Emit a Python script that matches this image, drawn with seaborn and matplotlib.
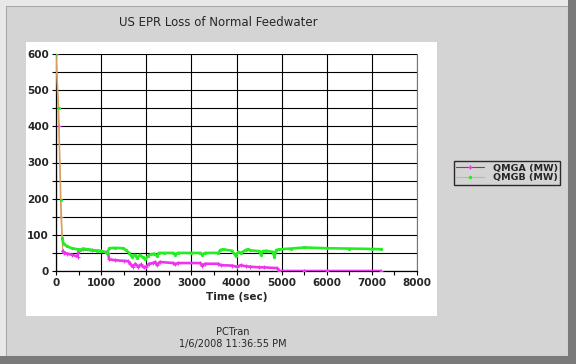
import numpy as np
import pandas as pd
import matplotlib
matplotlib.use('Agg')
import matplotlib.pyplot as plt
import matplotlib.ticker as ticker
from matplotlib.patches import Rectangle
from matplotlib.lines import Line2D
import seaborn as sns

sns.set_style("white")
plt.rcParams.update({'font.family': 'DejaVu Sans', 'font.size': 7})

### Data ###
title = 'US EPR Loss of Normal Feedwater'
time_b = [0, 60, 110, 140, 170, 250, 350, 480, 520, 600, 700, 800, 900, 1000, 1100, 1140,
          1180, 1300, 1480, 1550, 1620, 1680, 1740, 1800, 1860, 1920, 1980, 2040, 2100, 2180,
          2230, 2280, 2400, 2600, 2640, 2700, 3000, 3200, 3240, 3300, 3600, 3640, 3700, 3900,
          3980, 4040, 4100, 4200, 4250, 4300, 4500, 4540, 4580, 4650, 4800, 4840, 4880, 4950,
          5200, 5500, 6000, 6500, 7000, 7200]
qmgb = [600, 450, 195, 90, 75, 68, 63, 60, 58, 62, 60, 58, 56, 55, 52, 50,
        63, 64, 63, 58, 50, 40, 45, 36, 45, 38, 32, 42, 46, 48,
        42, 50, 50, 50, 45, 50, 50, 50, 45, 50, 50, 58, 60, 56,
        42, 53, 50, 58, 60, 57, 55, 45, 55, 56, 53, 40, 58, 60,
        62, 65, 63, 62, 61, 60]
time_a = [0, 60, 110, 150, 180, 250, 350, 480, 500, 600, 800, 1000, 1100, 1150, 1180, 1300,
          1500, 1600, 1650, 1700, 1760, 1820, 1880, 1940, 2000, 2060, 2150, 2200, 2240, 2300,
          2600, 2640, 2700, 3200, 3240, 3300, 3600, 3650, 3900, 4000, 4100, 4200, 4300, 4500,
          4600, 4900, 4950, 5500, 6000, 7200]
qmga = [600, 400, 150, 55, 50, 48, 45, 40, 55, 60, 57, 55, 52, 50, 32, 30,
        28, 27, 20, 12, 20, 12, 18, 10, 12, 20, 22, 25, 16, 25,
        22, 18, 22, 22, 15, 20, 20, 16, 15, 12, 16, 13, 12, 10,
        10, 8, 0, 0, 0, 0]
labels = ['QMGA (MW)', 'QMGB (MW)']
colors = {'QMGA (MW)': '#ee33ee', 'QMGB (MW)': '#22ee22'}
spike_end = 150  # initial transient is drawn as a thin line

df = pd.concat([
    pd.DataFrame({'Time': time_a, 'Value': qmga, 'Series': labels[0]}),
    pd.DataFrame({'Time': time_b, 'Value': qmgb, 'Series': labels[1]}),
])

gray = '#d4d4d4'
fig = plt.figure(figsize=(5.76, 3.64), dpi=100, facecolor=gray)

# window frame decorations
W, H = 576, 364
def px_rect(x0, y0, x1, y1, **kw):
    fig.patches.append(Rectangle((x0 / W, 1 - y1 / H), (x1 - x0) / W, (y1 - y0) / H,
                                 transform=fig.transFigure, **kw))

px_rect(0, 0, W, H, facecolor='#e8e8e8', edgecolor='none', zorder=-5)
px_rect(6, 6, 568, 356, facecolor=gray, edgecolor='#a8a8a8', lw=0.8, zorder=-4)
px_rect(568, 0, W, H, facecolor='#7a7a7a', edgecolor='none', zorder=-4)
px_rect(0, 356, W, H, facecolor='#7a7a7a', edgecolor='none', zorder=-4)
px_rect(26, 42, 437, 316, facecolor='white', edgecolor='none', zorder=-3)

ax = fig.add_axes([56 / W, 1 - 271 / H, (417 - 56) / W, (271 - 54) / H])
ax.set_facecolor('none')

for lab, marker, z in [(labels[0], '+', 3), (labels[1], '.', 4)]:
    d = df[df['Series'] == lab]
    # thin tan line for the initial drop
    sns.lineplot(data=d[d['Time'] <= spike_end], x='Time', y='Value', color='#d8a060',
                 lw=0.9, marker=marker, markersize=3, mec=colors[lab], mfc=colors[lab],
                 ax=ax, zorder=z)
    sns.lineplot(data=d[d['Time'] >= spike_end - 20], x='Time', y='Value', color=colors[lab],
                 lw=1.9, marker=marker, markersize=3, mew=0.8, mec=colors[lab],
                 ax=ax, zorder=z)

ax.set_xlim(0, 8000)
ax.set_ylim(0, 600)
ax.xaxis.set_major_locator(ticker.MultipleLocator(1000))
ax.xaxis.set_minor_locator(ticker.MultipleLocator(500))
ax.yaxis.set_major_locator(ticker.MultipleLocator(100))
ax.yaxis.set_minor_locator(ticker.MultipleLocator(50))
ax.grid(True, which='major', axis='x', color='black', lw=0.8)
ax.grid(True, which='both', axis='y', color='black', lw=0.8)
ax.tick_params(axis='both', which='both', direction='out', length=3, width=0.8,
               color='black', labelsize=7.5, pad=2, left=True, bottom=True)
for lab in ax.get_xticklabels() + ax.get_yticklabels():
    lab.set_fontweight('bold')
for side in ['left', 'bottom']:
    ax.spines[side].set_color('black')
    ax.spines[side].set_linewidth(0.9)
ax.spines['top'].set_visible(False)
ax.spines['right'].set_color('#777777')
ax.set_xlabel('Time (sec)', fontweight='bold', fontsize=7.5, labelpad=3)
ax.set_ylabel('')

# legend
handles = [Line2D([], [], color='#dd1155', lw=0.8, marker='+', markersize=3,
                  markeredgecolor=colors[labels[0]]),
           Line2D([], [], color='#99cc99', lw=0.8, marker='.', markersize=3,
                  markeredgecolor=colors[labels[1]], markerfacecolor=colors[labels[1]])]
leg = fig.legend(handles, labels, loc='center', bbox_to_anchor=(507 / W, 1 - 173 / H),
                 frameon=True, fancybox=False, facecolor=gray, edgecolor='black',
                 handlelength=3.0, handletextpad=0.9, borderpad=0.25, borderaxespad=0,
                 labelspacing=0.05, prop={'weight': 'bold', 'size': 6.8})
leg.get_frame().set_linewidth(1.0)

fig.text(218 / W, 1 - 22 / H, title, ha='center', va='center', fontsize=8.5)
fig.text(233 / W, 1 - 332 / H, 'PCTran', ha='center', va='center', fontsize=7)
fig.text(233 / W, 1 - 344 / H, '1/6/2008 11:36:55 PM', ha='center', va='center', fontsize=7)

fig.savefig('out.png', dpi=100, facecolor=fig.get_facecolor())
